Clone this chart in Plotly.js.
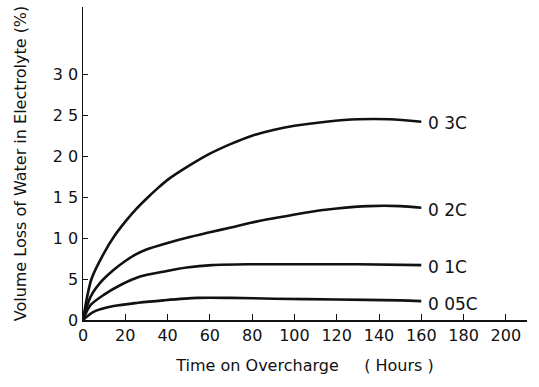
<!DOCTYPE html>
<html>
<head>
<meta charset="utf-8">
<script src="https://cdn.plot.ly/plotly-3.0.1.min.js"></script>
<style>html,body{margin:0;padding:0;background:#fff}#chart{width:539px;height:387px}</style>
</head>
<body>
<div id="chart"></div>
<script>
// Data (hours on overcharge, volume loss %)
const hours03 = [0, 4, 10, 15, 20, 25, 30, 35, 40, 50, 60, 70, 80, 90, 100, 115, 130, 145, 160];
const loss03  = [0, 0.50, 0.82, 1.03, 1.20, 1.35, 1.48, 1.60, 1.71, 1.88, 2.03, 2.15, 2.25, 2.32, 2.37, 2.42, 2.45, 2.45, 2.42];
const hours02 = [0, 3.5, 8, 14, 20, 25, 30, 40, 50, 60, 70, 80, 90, 105, 120, 135, 150, 160];
const loss02  = [0, 0.28, 0.45, 0.60, 0.72, 0.80, 0.86, 0.94, 1.01, 1.07, 1.13, 1.19, 1.24, 1.31, 1.36, 1.39, 1.39, 1.37];
const hours01 = [0, 3.5, 10, 18, 27, 38, 49, 61, 79, 100, 130, 160];
const loss01  = [0, 0.18, 0.31, 0.43, 0.53, 0.59, 0.64, 0.67, 0.68, 0.68, 0.68, 0.67];
const hours005 = [0, 5, 14.5, 26, 38, 54, 70, 90, 120, 150, 160];
const loss005  = [0, 0.10, 0.17, 0.21, 0.24, 0.27, 0.27, 0.26, 0.25, 0.24, 0.23];

const seriesLabels = ["0 3C", "0 2C", "0 1C", "0 05C"];
const labelY = [2.41, 1.34, 0.65, 0.20];

const xTickVals = [0, 20, 40, 60, 80, 100, 120, 140, 160, 180, 200];
const xTickText = ["0", "20", "40", "60", "80", "100", "120", "140", "160", "180", "200"];
const yTickVals = [0, 0.5, 1.0, 1.5, 2.0, 2.5, 3.0];
const yTickText = ["0", "5", "1 0", "1 5", "2 0", "2 5", "3 0"];

const FONT = "DejaVu Sans, sans-serif";
const INK = "#111";

const line = {color: INK, width: 2.6, shape: "spline", smoothing: 0.8};
const traces = [
  {x: hours03, y: loss03, mode: "lines", line: line, hoverinfo: "skip"},
  {x: hours02, y: loss02, mode: "lines", line: line, hoverinfo: "skip"},
  {x: hours01, y: loss01, mode: "lines", line: line, hoverinfo: "skip"},
  {x: hours005, y: loss005, mode: "lines", line: line, hoverinfo: "skip"}
];

const annotations = seriesLabels.map((t, i) => ({
  x: 162, y: labelY[i], xref: "x", yref: "y", text: t, showarrow: false,
  xanchor: "left", yanchor: "middle", font: {family: FONT, size: 17, color: INK}
}));

const layout = {
  width: 539, height: 387,
  margin: {l: 83, r: 12, t: 7, b: 67},
  paper_bgcolor: "#fff", plot_bgcolor: "#fff",
  showlegend: false,
  font: {family: FONT, color: INK},
  xaxis: {
    range: [0, 210], tickvals: xTickVals, ticktext: xTickText,
    showgrid: false, zeroline: false, showline: true, linecolor: INK, linewidth: 1.5,
    ticks: "inside", ticklen: 6, tickcolor: INK, tickwidth: 1,
    tickfont: {family: FONT, size: 16, color: INK},
    title: {text: "Time on Overcharge     ( Hours )", font: {family: FONT, size: 16, color: INK}, standoff: 16},
    fixedrange: true
  },
  yaxis: {
    range: [0, 3.82], tickvals: yTickVals, ticktext: yTickText,
    showgrid: false, zeroline: false, showline: true, linecolor: INK, linewidth: 1.5,
    ticks: "inside", ticklen: 5, tickcolor: INK, tickwidth: 1,
    tickfont: {family: FONT, size: 16, color: INK},
    title: {text: "Volume Loss of Water in Electrolyte (%)", font: {family: FONT, size: 16, color: INK}, standoff: 22},
    fixedrange: true
  },
  annotations: annotations
};

Plotly.newPlot("chart", traces, layout, {staticPlot: true, displayModeBar: false});
</script>
</body>
</html>
